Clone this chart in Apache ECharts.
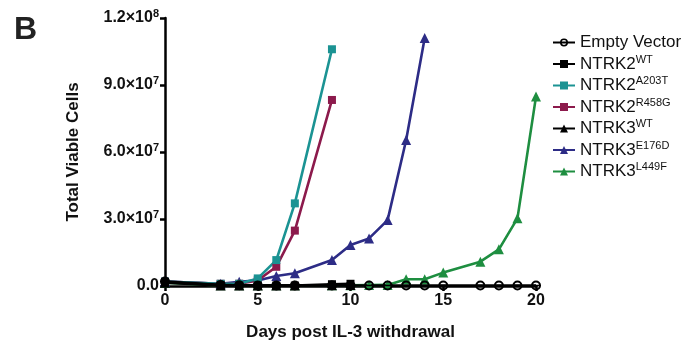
<!DOCTYPE html>
<html><head><meta charset="utf-8">
<script src="https://cdn.jsdelivr.net/npm/echarts@6/dist/echarts.min.js"></script>
<style>html,body{margin:0;padding:0;background:#fff}#c{width:691px;height:341px}</style>
</head><body><div id="c"></div>
<script>
const legendOrder = ['Empty Vector','NTRK2^WT','NTRK2^A203T','NTRK2^R458G','NTRK3^WT','NTRK3^E176D','NTRK3^L449F'];
const yTicks = [0, 3e7, 6e7, 9e7, 1.2e8];

const evDays = [0,3,4,5,6,7,9,10,11,12,13,14,15,17,18,19,20];
const evVals = [2.0e6,0.5e6,0.3e6,0.2e6,0.2e6,0.2e6,0.2e6,0.2e6,0.2e6,0.2e6,0.2e6,0.2e6,0.2e6,0.2e6,0.2e6,0.2e6,0.2e6];
const k2wtDays = [0,3,4,5,6,7,9,10];
const k2wtVals = [1.8e6,0.3e6,0.2e6,0.2e6,0.2e6,0.2e6,0.8e6,1.0e6];
const a203tDays = [0,3,4,5,6,7,9];
const a203tVals = [2.0e6,1.0e6,1.0e6,3.4e6,11.6e6,37.0e6,106.0e6];
const r458gDays = [0,3,4,5,6,7,9];
const r458gVals = [2.0e6,1.0e6,1.0e6,2.5e6,8.6e6,24.8e6,83.3e6];
const k3wtDays = [0,3,4,5,6,7,9,10];
const k3wtVals = [1.5e6,0.2e6,0.2e6,0.2e6,0.2e6,0.2e6,0.3e6,0.4e6];
const e176dDays = [0,3,4,5,6,7,9,10,11,12,13,14];
const e176dVals = [2.0e6,1.0e6,1.9e6,2.5e6,4.5e6,5.7e6,11.6e6,18.4e6,21.3e6,29.5e6,65.4e6,111.0e6];
const l449fDays = [0,3,4,5,6,7,9,10,11,12,13,14,15,17,18,19,20];
const l449fVals = [1.5e6,0.3e6,0.3e6,0.3e6,0.3e6,0.3e6,0.3e6,0.3e6,0.4e6,0.5e6,3.0e6,3.0e6,6.0e6,10.9e6,16.4e6,30.3e6,84.8e6];

const zip = (d, v) => d.map((x, i) => [x, v[i]]);
const circleBar = 'path://M2,12 A10,10 0 1,1 22,12 A10,10 0 1,1 2,12 Z M6,12 A6,6 0 1,0 18,12 A6,6 0 1,0 6,12 Z M2,10.5 L22,10.5 L22,13.5 L2,13.5 Z';

function mk(name, days, vals, color, symbol, size) {
  return {name, type:'line', data: zip(days, vals), symbol, symbolSize: size,
    itemStyle:{color}, lineStyle:{color, width:2.6}, showSymbol:true, z: 2};
}
const series = [
  mk('NTRK3^L449F', l449fDays, l449fVals, '#1E8E40', 'triangle', 10),
  mk('NTRK3^E176D', e176dDays, e176dVals, '#2D2C86', 'triangle', 10),
  mk('NTRK2^R458G', r458gDays, r458gVals, '#8C1A4C', 'rect', 8),
  mk('NTRK2^A203T', a203tDays, a203tVals, '#1B9393', 'rect', 8),
  mk('NTRK3^WT', k3wtDays, k3wtVals, '#000000', 'triangle', 10),
  mk('NTRK2^WT', k2wtDays, k2wtVals, '#000000', 'rect', 8),
  mk('Empty Vector', evDays, evVals, '#000000', circleBar, 10),
];

const chart = echarts.init(document.getElementById('c'), null, {renderer:'canvas'});
const FF = 'Liberation Sans, Arial, Helvetica, sans-serif';
chart.setOption({
  animation:false,
  backgroundColor:'#fff',
  title:{text:'B', left:9, top:9, textStyle:{fontSize:32, fontWeight:'bold', fontFamily:FF, color:'#222'}},
  grid:{left:165, right:155, top:18, bottom:55, containLabel:false, outerBoundsMode:'none'},
  legend:{
    data: legendOrder, orient:'vertical', left:547, top:29, itemWidth:22, itemHeight:10, itemGap:3,
    textStyle:{fontSize:17, fontFamily:FF, color:'#111', rich:{
      sup:{fontSize:11, fontFamily:FF, color:'#111', padding:[0,0,9,0]}}},
    formatter: n => { const p = n.split('^'); return p.length>1 ? p[0] + '{sup|' + p[1] + '}' : n; }
  },
  xAxis:{type:'value', min:0, max:20, interval:5,
    name:'Days post IL-3 withdrawal', nameLocation:'middle', nameGap:38,
    nameTextStyle:{fontSize:17, fontWeight:'bold', fontFamily:FF, color:'#111'},
    axisLine:{lineStyle:{color:'#000', width:2.5}}, axisTick:{show:true, length:5, lineStyle:{width:2.5, color:'#000'}},
    axisLabel:{fontSize:16, fontWeight:'bold', fontFamily:FF, color:'#111', margin:7},
    splitLine:{show:false}},
  yAxis:{type:'value', min:0, max:1.2e8, interval:3e7,
    name:'Total Viable Cells', nameLocation:'middle', nameGap:83,
    nameTextStyle:{fontSize:17, fontWeight:'bold', fontFamily:FF, color:'#111'},
    axisLine:{show:true, lineStyle:{color:'#000', width:2.5}}, axisTick:{show:true, length:5, lineStyle:{width:2.5, color:'#000'}},
    axisLabel:{fontSize:16, fontWeight:'bold', fontFamily:FF, color:'#111', margin:6,
      formatter: v => {
        if (v === 0) return '0.0';
        const e = Math.floor(Math.log10(v) + 1e-9);
        const m = (v / Math.pow(10, e)).toFixed(1);
        return m + '×10{sup|' + e + '}';
      },
      rich:{sup:{fontSize:11, fontWeight:'bold', fontFamily:FF, color:'#111', padding:[0,0,9,0]}}},
    splitLine:{show:false}},
  series
});
</script></body></html>
